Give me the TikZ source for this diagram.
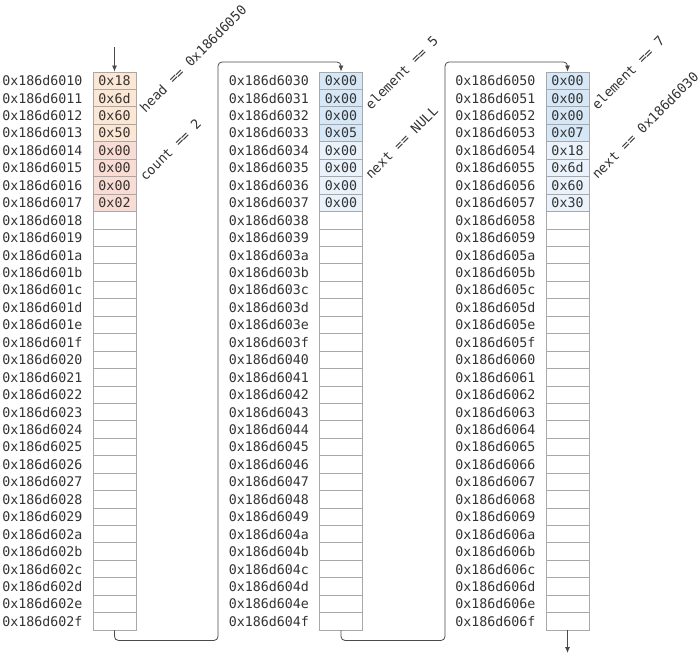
\documentclass[tikz,border=0pt]{standalone}
\usepackage{fontspec}
\setmonofont{DejaVu Sans Mono}
\usepackage{tikz}
\usetikzlibrary{arrows.meta}

\definecolor{headfill}{HTML}{FCE6D4}
\definecolor{countfill}{HTML}{F9DCD3}
\definecolor{elemfill}{HTML}{D6E8F7}
\definecolor{nextfill}{HTML}{EAF3FB}
\definecolor{cellline}{HTML}{A8A8A8}
\definecolor{textcol}{HTML}{333333}
\definecolor{linecol}{HTML}{4A4A4A}

\tikzset{
	memfont/.style={font=\ttfamily\fontsize{13.3}{16}\selectfont, text=textcol},
	cell/.style={memfont, draw=cellline, line width=0.8pt, minimum width=43pt, minimum height=17.44pt, inner sep=0pt},
	addr/.style={memfont, anchor=east, inner sep=0pt},
	field/.style={memfont, anchor=base west, rotate=45, inner sep=0pt},
	link/.style={draw=linecol, line width=0.8pt, rounded corners=4pt, -{Latex[length=6pt,width=5pt]}}
}

\begin{document}
\begin{tikzpicture}[x=1pt,y=-1pt]
			\useasboundingbox (0,0) rectangle (700,658);
			% filled bytes
			\foreach \k/\cx/\r/\f/\vals in {1/114.5/0/headfill/{0x18,0x6d,0x60,0x50},
				1/114.5/4/countfill/{0x00,0x00,0x00,0x02},
				2/341/0/elemfill/{0x00,0x00,0x00,0x05},
				2/341/4/nextfill/{0x00,0x00,0x00,0x00},
				3/567.5/0/elemfill/{0x00,0x00,0x00,0x07},
				3/567.5/4/nextfill/{0x18,0x6d,0x60,0x30}}
			\foreach \v [count=\i from \r] in \vals
			\node[cell, fill=\f] (m\k-\i) at (\cx, 80.72+17.44*\i) {\v};
			% empty bytes
			\foreach \k/\cx in {1/114.5, 2/341, 3/567.5}
			\foreach \i in {8,...,31}
			\node[cell] (m\k-\i) at (\cx, 80.72+17.44*\i) {};
			% addresses
			\foreach \k/\d in {1/1, 2/3, 3/5}
			\foreach \hi in {0,1}
			\foreach \lo [count=\j from 0] in {0,...,9,a,b,c,d,e,f} {
				\pgfmathtruncatemacro{\i}{16*\hi+\j}
				\pgfmathtruncatemacro{\upper}{\d+\hi}
				\node[addr] (a\k-\i) at ([xshift=-10pt]m\k-\i.west) {0x186d60\upper\lo};
			}
			% field names
			\node[field] (head) at ([xshift=9pt,yshift=-6pt]m1-1.south east) {head == 0x186d6050};
			\node[field] (count) at ([xshift=9pt,yshift=-5pt]m1-5.south east) {count == 2};
			\node[field] (elem1) at ([xshift=8pt,yshift=-3pt]m2-1.south east) {element == 5};
			\node[field] (next1) at ([xshift=8pt,yshift=-3pt]m2-5.south east) {next == NULL};
			\node[field] (elem2) at ([xshift=8pt,yshift=-3pt]m3-1.south east) {element == 7};
			\node[field] (next2) at ([xshift=8pt,yshift=-3pt]m3-5.south east) {next == 0x186d6030};
			% pointers
			\coordinate (start) at (114.5,47);
			\coordinate (stop) at (567.5,653);
			\draw[link] (start) -- (m1-0.north);
			\draw[link] (m1-31.south) -- ++(0,10) -| (218,62) -| (m2-0.north);
			\draw[link] (m2-31.south) -- ++(0,10) -| (445,62) -| (m3-0.north);
			\draw[link] (m3-31.south) -- (stop);
		\end{tikzpicture}
\end{document}
